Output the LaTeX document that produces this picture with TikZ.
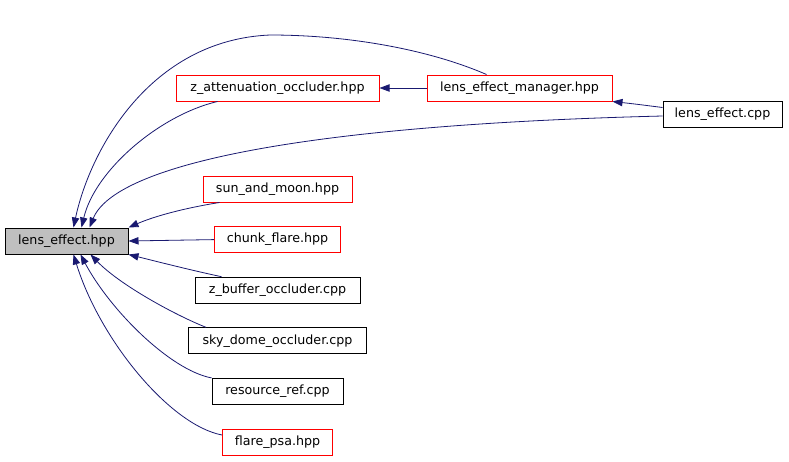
\documentclass[tikz,border=0pt]{standalone}
\usepackage{fontspec}
\setmainfont{DejaVu Sans}
\usepackage{tikz}
\usetikzlibrary{arrows.meta, positioning, calc}
\usepackage{xcolor}
\definecolor{edgeblue}{RGB}{25,25,112}
\definecolor{docred}{RGB}{255,0,0}
\definecolor{curgray}{RGB}{191,191,191}

\begin{document}
\begin{tikzpicture}[x=0.75pt, y=-0.75pt,
      file/.style={rectangle, draw=black, line width=0.75pt,
                   minimum height=19.5pt, inner sep=0pt,
                   font=\fontsize{9.5}{11}\selectfont},
      docfile/.style={file, draw=docred},
      edge/.style={-{Triangle[length=7.5pt,width=5.5pt]}, line width=0.6pt, draw=edgeblue}
    ]
    \useasboundingbox (0,0) rectangle (789,461);
    % nodes
    \node[file, fill=curgray, minimum width=92.25pt] (lhpp) at (66.5,241)  {lens\_effect.hpp};
    \node[docfile, minimum width=152.25pt] (zatt) at (277.5,88)  {z\_attenuation\_occluder.hpp};
    \node[docfile, minimum width=138.75pt] (lmgr) at (519.5,88)  {lens\_effect\_manager.hpp};
    \node[file,    minimum width=89.25pt]  (lcpp) at (722.5,114.5) {lens\_effect.cpp};
    \node[docfile, minimum width=111.75pt] (sun)  at (277.5,189) {sun\_and\_moon.hpp};
    \node[docfile, minimum width=94.5pt,   below=17.7pt of sun]   (chunk) {chunk\_flare.hpp};
    \node[file,    minimum width=123.75pt, below=17.7pt of chunk] (zbuf)  {z\_buffer\_occluder.cpp};
    \node[file,    minimum width=133.5pt,  below=17.7pt of zbuf]  (sky)   {sky\_dome\_occluder.cpp};
    \node[file,    minimum width=98.25pt,  below=17.7pt of sky]   (res)   {resource\_ref.cpp};
    \node[docfile, minimum width=82.5pt,   below=17.7pt of res]   (flare) {flare\_psa.hpp};
    % edges
    \draw[edge] (lmgr) -- (zatt);
    \draw[edge] ($(lcpp.west)+(0,-7)$) .. controls (635,104) .. (lmgr.south east);
    \draw[edge] ($(lmgr.north west)+(60,0)$) .. controls (430,50) and (350,35) .. (270,35)
                .. controls (150,40) and (90,150) .. ($(lhpp.north)+(7,0)$);
    \draw[edge] ($(zatt.south west)+(42,0)$) .. controls (160,115) and (95,170) .. ($(lhpp.north)+(15,0)$);
    \draw[edge] ($(lcpp.west)+(0,1.5)$) .. controls (300,125) and (115,165) .. ($(lhpp.north)+(23,0)$);
    \draw[edge] ($(sun.south west)+(17,0)$) .. controls (185,208) and (155,216) .. (lhpp.north east);
    \draw[edge] (chunk.west) -- (lhpp.east);
    \draw[edge] ($(zbuf.north west)+(27,0)$) .. controls (190,270) and (155,261) .. (lhpp.south east);
    \draw[edge] ($(sky.north west)+(18,0)$) .. controls (175,315) and (120,285) .. ($(lhpp.south)+(24,0)$);
    \draw[edge] (res.north west) .. controls (170,370) and (110,310) .. ($(lhpp.south)+(14,0)$);
    \draw[edge] ($(flare.west)+(0,-7)$) .. controls (170,425) and (100,340) .. ($(lhpp.south)+(7,0)$);
  \end{tikzpicture}
\end{document}
